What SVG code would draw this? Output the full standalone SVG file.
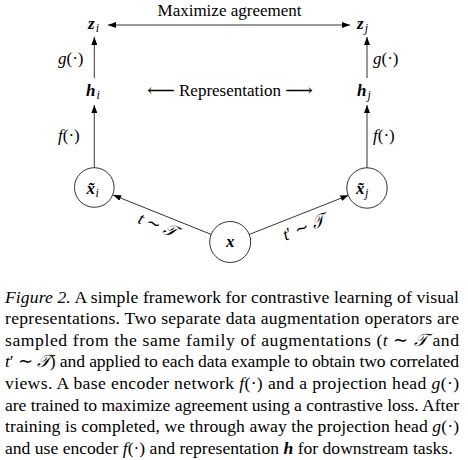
<svg xmlns="http://www.w3.org/2000/svg" width="468" height="460" viewBox="0 0 468 460">
<style>
text{font-family:"Liberation Serif","Times New Roman",serif;fill:#000}
.lbl{font-size:17px}
.bi{font-weight:bold;font-style:italic}
.it{font-style:italic}
.sub{font-size:12px;font-style:italic;font-weight:normal}
.cap{font-size:17.6px}
.edge{stroke:#000;stroke-width:0.8;fill:none}
.node circle{fill:#fff;stroke:#000;stroke-width:0.8}
.sym{font-family:"DejaVu Serif","DejaVu Sans",serif}
</style>
<defs>
<marker id="ah" viewBox="0 0 8 6" refX="8" refY="3" markerWidth="8" markerHeight="6" markerUnits="userSpaceOnUse" orient="auto-start-reverse">
<path d="M0,0 L8,3 L0,6 z" fill="#000"/>
</marker>
</defs>
<g id="connectors">
<line class="edge" x1="108" y1="25" x2="350" y2="25" marker-start="url(#ah)" marker-end="url(#ah)"/>
<line class="edge" x1="94.3" y1="78" x2="94.3" y2="37" marker-end="url(#ah)"/>
<line class="edge" x1="367" y1="78" x2="367" y2="37" marker-end="url(#ah)"/>
<line class="edge" x1="94.3" y1="168" x2="94.3" y2="105" marker-end="url(#ah)"/>
<line class="edge" x1="367" y1="168" x2="367" y2="105" marker-end="url(#ah)"/>
<line class="edge" x1="211.4" y1="234.5" x2="113.1" y2="195" marker-end="url(#ah)"/>
<line class="edge" x1="248.6" y1="234.7" x2="348.4" y2="195.3" marker-end="url(#ah)"/>
<text class="lbl" x="229.5" y="16" text-anchor="middle">Maximize agreement</text>
<text class="lbl" x="58" y="64"><tspan class="it">g</tspan>(·)</text>
<text class="lbl" x="373" y="64"><tspan class="it">g</tspan>(·)</text>
<text class="lbl" x="58" y="141"><tspan class="it">f</tspan>(·)</text>
<text class="lbl" x="373" y="141"><tspan class="it">f</tspan>(·)</text>
<text class="lbl sym" x="175" y="95.5" text-anchor="end" textLength="28" lengthAdjust="spacingAndGlyphs">⟵</text>
<text class="lbl" x="230" y="95.5" text-anchor="middle">Representation</text>
<text class="lbl sym" x="285" y="95.5" textLength="28" lengthAdjust="spacingAndGlyphs">⟶</text>
<text class="lbl" transform="translate(157.5,225.5) rotate(21.9)" y="5" text-anchor="middle"><tspan class="it">t</tspan> ∼ <tspan class="it">𝒯</tspan></text>
<text class="lbl" transform="translate(304,228) rotate(-21.6)" y="5" text-anchor="middle"><tspan class="it">t</tspan>′ ∼ <tspan class="it">𝒯</tspan></text>
</g>
<g id="node-zi" class="node"><text class="lbl bi" x="88" y="28.5">z<tspan class="sub" dx="1" dy="3">i</tspan></text></g>
<g id="node-zj" class="node"><text class="lbl bi" x="357" y="28.5">z<tspan class="sub" dx="1" dy="3">j</tspan></text></g>
<g id="node-hi" class="node"><text class="lbl bi" x="86" y="96">h<tspan class="sub" dx="1" dy="3">i</tspan></text></g>
<g id="node-hj" class="node"><text class="lbl bi" x="357" y="96">h<tspan class="sub" dx="1" dy="3">j</tspan></text></g>
<g id="node-xi" class="node"><circle cx="94.3" cy="187.5" r="19.8"/><text class="lbl bi" x="86.5" y="194">x̃<tspan class="sub" dx="0.5" dy="3">i</tspan></text></g>
<g id="node-xj" class="node"><circle cx="367" cy="188" r="20.2"/><text class="lbl bi" x="356" y="194">x̃<tspan class="sub" dx="0.5" dy="3">j</tspan></text></g>
<g id="node-x" class="node"><circle cx="230.2" cy="242" r="20.5"/><text class="lbl bi" x="230.2" y="246.5" text-anchor="middle">x</text></g>
<g id="caption">
<text class="cap" x="5" y="302.5" textLength="454" lengthAdjust="spacing"><tspan class="it">Figure 2.</tspan> A simple framework for contrastive learning of visual</text>
<text class="cap" x="5" y="324.1" textLength="454" lengthAdjust="spacing">representations.  Two separate data augmentation operators are</text>
<text class="cap" x="5" y="345.7" textLength="454" lengthAdjust="spacing">sampled from the same family of augmentations (<tspan class="it">t</tspan> ∼ <tspan class="it">𝒯</tspan> and</text>
<text class="cap" x="5" y="367.3" textLength="454" lengthAdjust="spacing"><tspan class="it">t</tspan>′ ∼ <tspan class="it">𝒯</tspan>) and applied to each data example to obtain two correlated</text>
<text class="cap" x="5" y="388.9" textLength="454" lengthAdjust="spacing">views.  A base encoder network <tspan class="it">f</tspan>(·) and a projection head <tspan class="it">g</tspan>(·)</text>
<text class="cap" x="5" y="410.5" textLength="454" lengthAdjust="spacing">are trained to maximize agreement using a contrastive loss. After</text>
<text class="cap" x="5" y="432.1" textLength="454" lengthAdjust="spacing">training is completed, we through away the projection head <tspan class="it">g</tspan>(·)</text>
<text class="cap" x="5" y="453.7">and use encoder <tspan class="it">f</tspan>(·) and representation <tspan class="bi">h</tspan> for downstream tasks.</text>
</g>
</svg>
